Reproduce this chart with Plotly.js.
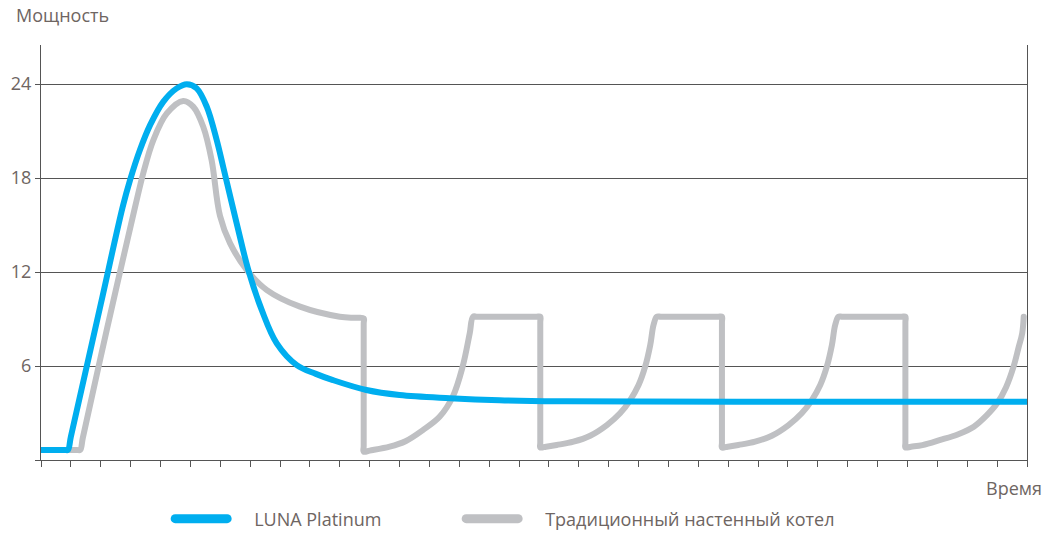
<!DOCTYPE html>
<html>
<head>
<meta charset="utf-8">
<script src="https://cdn.plot.ly/plotly-3.0.1.min.js"></script>
<style>
  html, body { margin: 0; padding: 0; background: #fff; }
  #chart { width: 1043px; height: 533px; }
  .scatterlayer path.js-line { stroke-linecap: round; stroke-linejoin: round; }
  .legend path.js-line { stroke-width: 9px !important; stroke-linecap: round !important; }
  .legend text.legendtext { transform: translateX(22px); }
  .legend g.scrollbox { clip-path: none !important; }
</style>
</head>
<body>
<div id="chart"></div>
<script>
// Series names
const seriesNames = ['LUNA Platinum', 'Традиционный настенный котел'];

// LUNA Platinum (blue)
const lunaX = [0, 0.8, 0.9, 1.0, 2.0, 2.735, 2.98, 3.31, 3.65, 4.09, 4.54, 4.88, 5.21, 5.55, 5.88, 6.1, 6.55, 6.94, 7.39, 7.89, 8.56, 9.2, 9.77, 10.89, 12.0, 13.68, 15.35, 17.36, 20, 25, 30, 33];
const lunaY = [0.64, 0.64, 0.64, 1.49, 9.95, 16.17, 17.87, 19.79, 21.38, 22.87, 23.73, 24.0, 23.73, 22.55, 20.43, 18.7, 15.1, 12.13, 9.57, 7.45, 6.06, 5.5, 5.1, 4.47, 4.15, 3.95, 3.82, 3.75, 3.73, 3.72, 3.72, 3.72];

// Traditional wall boiler (gray)
const tradX = [0, 1.2, 1.31, 1.4, 2.2, 3.15, 3.42, 3.76, 4.21, 4.76, 5.10, 5.43, 5.71, 5.99, 6.33, 6.89, 7.56, 8.67, 10.0, 10.5, 10.8,
  10.8, 10.8, 10.8, 11.0, 11.67, 12.2, 12.78, 13.34, 13.78, 14.11, 14.35, 14.46, 14.6, 16.58, 16.71,
  16.71, 16.71, 16.71, 16.9, 17.26, 17.82, 18.38, 18.94, 19.38, 19.72, 20.0, 20.22, 20.39, 20.5, 20.61, 20.75, 22.66, 22.79,
  22.79, 22.79, 22.79, 22.98, 23.34, 23.9, 24.46, 25.02, 25.46, 25.8, 26.08, 26.3, 26.47, 26.58, 26.69, 26.83, 28.8, 28.93,
  28.93, 28.93, 28.93, 29.12, 29.5, 30.1, 30.7, 31.22, 31.65, 32.0, 32.3, 32.55, 32.72, 32.84, 32.89];
const tradY = [0.64, 0.64, 0.64, 1.42, 8.3, 16.17, 18.3, 20.43, 22.13, 22.93, 22.55, 21.28, 19.15, 15.6, 13.83, 12.13, 10.85, 9.79, 9.15, 9.08, 9.05,
  8.7, 0.9, 0.53, 0.6, 0.85, 1.2, 1.91, 2.76, 4.04, 5.95, 8.1, 9.15, 9.15, 9.15, 9.15,
  8.8, 1.1, 0.8, 0.85, 0.96, 1.17, 1.55, 2.23, 2.98, 3.83, 4.79, 5.96, 7.34, 8.62, 9.15, 9.15, 9.15, 9.15,
  8.8, 1.1, 0.8, 0.85, 0.96, 1.17, 1.55, 2.23, 2.98, 3.83, 4.79, 5.96, 7.34, 8.62, 9.15, 9.15, 9.15, 9.15,
  8.8, 1.1, 0.8, 0.85, 0.95, 1.28, 1.65, 2.13, 2.85, 3.62, 4.65, 5.96, 7.2, 8.1, 9.15];

// Axis ticks
const yTickVals = [0, 6, 12, 18, 24];
const yTickText = ['', '6', '12', '18', '24'];
const xTickVals = Array.from({length: 34}, (_, i) => i);

const textColor = '#6e6562';
const axisColor = '#555555';
const fontFam = '"Open Sans", "Noto Sans", sans-serif';

const traces = [
  { x: lunaX, y: lunaY, name: seriesNames[0], type: 'scatter', mode: 'lines',
    line: { color: '#00aeef', width: 6, shape: 'spline', smoothing: 1 } },
  { x: tradX, y: tradY, name: seriesNames[1], type: 'scatter', mode: 'lines',
    line: { color: '#bfc0c3', width: 6, shape: 'spline', smoothing: 1 } }
];
// draw gray under blue
const data = [traces[1], traces[0]];

const layout = {
  width: 1043, height: 533,
  margin: { l: 41, r: 16, t: 45, b: 73, autoexpand: false },
  paper_bgcolor: '#fff', plot_bgcolor: '#fff',
  font: { family: fontFam, color: textColor, size: 18 },
  showlegend: true,
  legend: {
    orientation: 'h', x: 0.131, xanchor: 'left', y: -0.142, yanchor: 'middle',
    traceorder: 'reversed',
    font: { family: fontFam, size: 18, color: textColor },
    itemwidth: 52, entrywidth: 224, entrywidthmode: 'pixels'
  },
  xaxis: {
    range: [0, 33], tickvals: xTickVals, showticklabels: false,
    ticks: 'outside', ticklen: 6, tickcolor: axisColor, tickwidth: 1,
    showline: true, linecolor: axisColor, linewidth: 1,
    showgrid: false, zeroline: false, fixedrange: true
  },
  yaxis: {
    range: [0, 26.5], tickvals: yTickVals, ticktext: yTickText,
    ticks: 'outside', ticklen: 5, tickcolor: axisColor, tickwidth: 1,
    showline: true, linecolor: axisColor, linewidth: 1, mirror: true,
    showgrid: true, gridcolor: axisColor, gridwidth: 1,
    zeroline: false, fixedrange: true,
    tickfont: { size: 18, color: textColor }
  },
  annotations: [
    { xref: 'paper', yref: 'paper', x: -0.0274, y: 1.072, xanchor: 'left', yanchor: 'middle',
      text: 'Мощность', showarrow: false, font: { size: 18, color: textColor } },
    { xref: 'paper', yref: 'paper', x: 1.017, y: -0.0675, xanchor: 'right', yanchor: 'middle',
      text: 'Время', showarrow: false, font: { size: 18, color: textColor } }
  ]
};

Plotly.newPlot('chart', data, layout, { displayModeBar: false, staticPlot: true });
</script>
</body>
</html>
